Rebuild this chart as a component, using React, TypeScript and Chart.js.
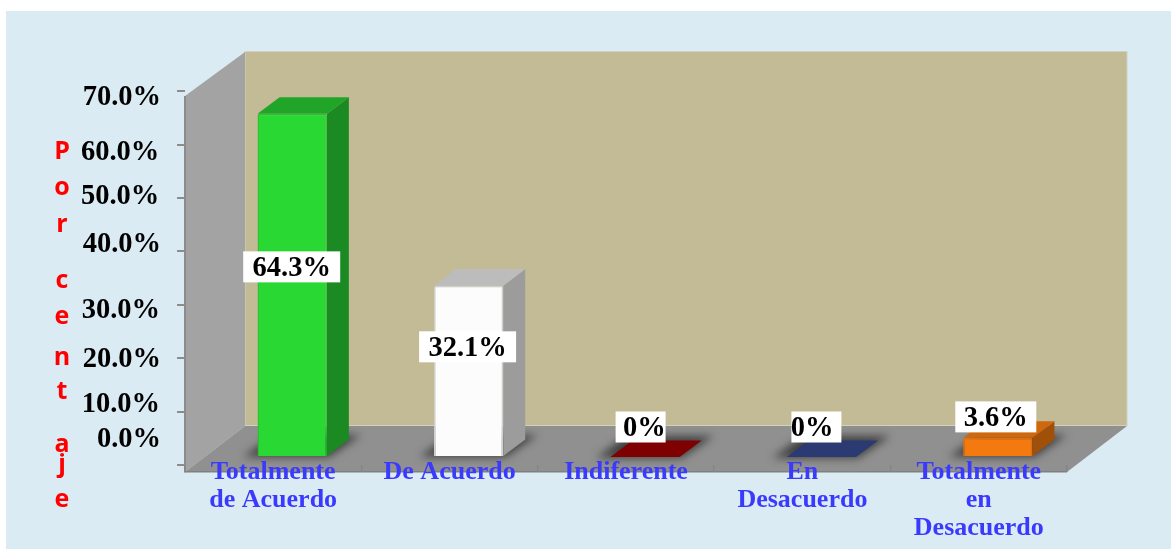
import React, { useEffect, useRef } from "react";
import { Chart, registerables } from "chart.js";

Chart.register(...registerables);

// ---- data ----
const categories: string[][] = [
  ["Totalmente", "de Acuerdo"],
  ["De Acuerdo"],
  ["Indiferente"],
  ["En", "Desacuerdo"],
  ["Totalmente", "en", "Desacuerdo"],
];
const values = [64.3, 32.1, 0, 0, 3.6];
const valueLabels = ["64.3%", "32.1%", "0%", "0%", "3.6%"];
const axisTitleLetters = ["P", "o", "r", "c", "e", "n", "t", "a", "j", "e"];

// ---- styles ----
const frontColors = ["#2ad834", "#fcfcfc", "#7f0000", "#2c3a74", "#f47a10"];
const frontBorders = ["#27c430", "#cfcfcf", "#7f0000", "#2c3a74", "#e06f0e"];
const sideColors = ["#1b8a22", "#9c9c9c", "#7f0000", "#2c3a74", "#a05009"];
const topColors = ["#21a529", "#bcbcbc", "#7f0000", "#2c3a74", "#cf680d"];

// ---- layout ----
const W = 1171;
const H = 549;
const AREA = { left: 185, right: 1067, top: 91.3, bottom: 465 };
const WALL = { x: 245, top: 52, right: 1127, floorBack: 426, floorFront: 472, cornerTop: 96 };
const BAR_SHIFT = { x: 19, y: -8 };
const DEPTH = { x: 22, y: 16.6 };
const SERIF = '"Liberation Serif", serif';
const tickLabelDy = [-25.2, -6.9, 1.5, 6.1, -7.2, -1.5, 7.5, 6.2];
const tickLabelRight = [161, 160, 161, 160, 161, 159.3, 159.3, 161];
const titleLetterY = [152, 188, 225, 281, 317, 358, 392, 445, 465, 500];
const boxDx = [-0.5, -1, -4.4, -5, -2];
const boxDy = [-18, -24, -30, -30, -30];
const boxW = [97, 97, 50, 50, 81];
const textDx = [0, 0, 3.7, -4.3, 0];
const textDy = 1.8;

function poly(ctx: CanvasRenderingContext2D, pts: number[][], fill: string) {
  ctx.beginPath();
  pts.forEach((p, i) => (i ? ctx.lineTo(p[0], p[1]) : ctx.moveTo(p[0], p[1])));
  ctx.closePath();
  ctx.fillStyle = fill;
  ctx.fill();
}

const floorPts = [
  [AREA.left, WALL.floorFront],
  [WALL.x, WALL.floorBack],
  [WALL.right, WALL.floorBack],
  [AREA.right, WALL.floorFront],
];

const scenePlugin = {
  id: "scene",
  beforeDraw(chart: any) {
    const ctx: CanvasRenderingContext2D = chart.ctx;
    ctx.save();
    ctx.fillStyle = "#dbebf3";
    ctx.fillRect(6, 11, W - 6, H - 11);
    // back wall
    ctx.fillStyle = "#c3bb96";
    ctx.fillRect(WALL.x, WALL.top, WALL.right - WALL.x, WALL.floorBack - WALL.top);
    ctx.strokeStyle = "#cfd3bd";
    ctx.lineWidth = 1;
    ctx.strokeRect(WALL.x, WALL.top - 0.5, WALL.right - WALL.x, WALL.floorBack - WALL.top);
    // left wall
    poly(
      ctx,
      [
        [AREA.left, WALL.cornerTop],
        [WALL.x, WALL.top],
        [WALL.x, WALL.floorBack],
        [AREA.left, WALL.floorFront],
      ],
      "#a3a3a3"
    );
    // floor
    poly(ctx, floorPts, "#909090");
    ctx.fillStyle = "#808080";
    ctx.fillRect(AREA.left, WALL.floorFront - 1, AREA.right - AREA.left, 1.5);
    // axis edge
    ctx.fillStyle = "#8c8c8c";
    ctx.fillRect(AREA.left - 1, WALL.cornerTop, 2, WALL.floorFront - WALL.cornerTop + 0.5);

    // floor shadows below the bars
    const meta = chart.getDatasetMeta(0);
    ctx.save();
    ctx.beginPath();
    floorPts.forEach((p, i) => (i ? ctx.lineTo(p[0], p[1]) : ctx.moveTo(p[0], p[1])));
    ctx.closePath();
    ctx.clip();
    ctx.filter = "blur(4px)";
    meta.data.forEach((el: any) => {
      const xl = el.x - el.width / 2 + BAR_SHIFT.x;
      const xr = el.x + el.width / 2 + BAR_SHIFT.x;
      const yb = el.base + BAR_SHIFT.y;
      poly(
        ctx,
        [
          [xl - 14, yb + 1],
          [xr + 2, yb + 1],
          [xr + 34, yb - 21],
          [xl + 16, yb - 21],
        ],
        "rgba(30,30,30,0.7)"
      );
    });
    ctx.restore();
    ctx.restore();

    // place the axis' own tick labels
    const yScale = chart.scales.y;
    yScale.getLabelItems().forEach((item: any, i: number) => {
      item.options.textAlign = "right";
      item.options.translation = [tickLabelRight[i], yScale.getPixelForTick(i) + tickLabelDy[i]];
    });
  },
  beforeDatasetsDraw(chart: any) {
    const ctx: CanvasRenderingContext2D = chart.ctx;
    const meta = chart.getDatasetMeta(0);
    meta.data.forEach((el: any, i: number) => {
      const xl = el.x - el.width / 2 + BAR_SHIFT.x;
      const xr = el.x + el.width / 2 + BAR_SHIFT.x;
      const yt = el.y + BAR_SHIFT.y;
      const yb = el.base + BAR_SHIFT.y;
      if (yb - yt > 0.5) {
        poly(
          ctx,
          [
            [xr, yt],
            [xr + DEPTH.x, yt - DEPTH.y],
            [xr + DEPTH.x, yb - DEPTH.y],
            [xr, yb],
          ],
          sideColors[i]
        );
      }
      poly(
        ctx,
        [
          [xl, yt],
          [xr, yt],
          [xr + DEPTH.x, yt - DEPTH.y],
          [xl + DEPTH.x, yt - DEPTH.y],
        ],
        topColors[i]
      );
    });
  },
  beforeDatasetDraw(chart: any) {
    chart.ctx.save();
    chart.ctx.translate(BAR_SHIFT.x, BAR_SHIFT.y);
  },
  afterDatasetDraw(chart: any) {
    chart.ctx.restore();
  },
  afterDatasetsDraw(chart: any) {
    const ctx: CanvasRenderingContext2D = chart.ctx;
    const meta = chart.getDatasetMeta(0);
    ctx.save();
    ctx.font = `bold 28.5px ${SERIF}`;
    ctx.textAlign = "center";
    ctx.textBaseline = "middle";
    meta.data.forEach((el: any, i: number) => {
      const cx = el.x + BAR_SHIFT.x + boxDx[i];
      const cy = (el.y + el.base) / 2 + BAR_SHIFT.y + boxDy[i];
      ctx.fillStyle = "#ffffff";
      ctx.fillRect(cx - boxW[i] / 2, cy - 15.5, boxW[i], 31);
      ctx.fillStyle = "#000000";
      ctx.fillText(valueLabels[i], cx + textDx[i], cy + textDy);
    });
    // stacked axis title
    ctx.font = 'bold 25px "Open Sans", sans-serif';
    ctx.fillStyle = "#ff0000";
    axisTitleLetters.forEach((ch, i) => ctx.fillText(ch, 62, titleLetterY[i]));
    ctx.restore();
  },
};

export default function App() {
  const ref = useRef<HTMLCanvasElement>(null);
  useEffect(() => {
    const chart = new Chart(ref.current as HTMLCanvasElement, {
      type: "bar",
      data: {
        labels: categories as any,
        datasets: [
          {
            data: values,
            backgroundColor: frontColors,
            borderColor: frontBorders,
            borderWidth: (c: any) => (c.parsed.y > 0 ? 1.5 : 0),
            borderRadius: 2,
            categoryPercentage: 1,
            barPercentage: 0.393,
            clip: false as any,
          },
        ],
      },
      options: {
        animation: false,
        responsive: false,
        layout: { padding: { left: 0, top: AREA.top, right: W - AREA.right, bottom: 0 } },
        plugins: { legend: { display: false }, tooltip: { enabled: false }, title: { display: false } },
        scales: {
          x: {
            offset: true,
            afterFit(s: any) {
              s.height = H - AREA.bottom;
              s.paddingLeft = 0;
              s.paddingRight = 0;
              // the first label line sits on the floor, above the scale's own box
              s._computeLabelArea = () => undefined;
            },
            border: { display: false },
            grid: {
              offset: true,
              drawOnChartArea: false,
              drawTicks: true,
              tickLength: 7,
              color: "#858585",
              lineWidth: 1.5,
            },
            ticks: {
              autoSkip: false,
              maxRotation: 0,
              padding: -14,
              color: "#3a3aff",
              font: { family: SERIF, weight: "bold", size: 26, lineHeight: 1.08 },
            },
          },
          y: {
            min: 0,
            max: 70,
            afterFit(s: any) {
              s.width = AREA.left;
              s.paddingTop = 0;
              s.paddingBottom = 0;
            },
            border: { display: false },
            grid: {
              drawOnChartArea: false,
              drawTicks: true,
              tickLength: 8,
              color: "#8c8c8c",
              lineWidth: 2,
            },
            ticks: {
              stepSize: 10,
              color: "#000000",
              font: { family: SERIF, weight: "bold", size: 28.5 },
              callback: (v: any) => Number(v).toFixed(1) + "%",
            },
          },
        },
      } as any,
      plugins: [scenePlugin as any],
    });
    return () => chart.destroy();
  }, []);
  return (
    <div style={{ position: "absolute", left: 0, top: 0, width: W, height: H }}>
      <canvas ref={ref} width={W} height={H} style={{ display: "block" }} />
    </div>
  );
}
